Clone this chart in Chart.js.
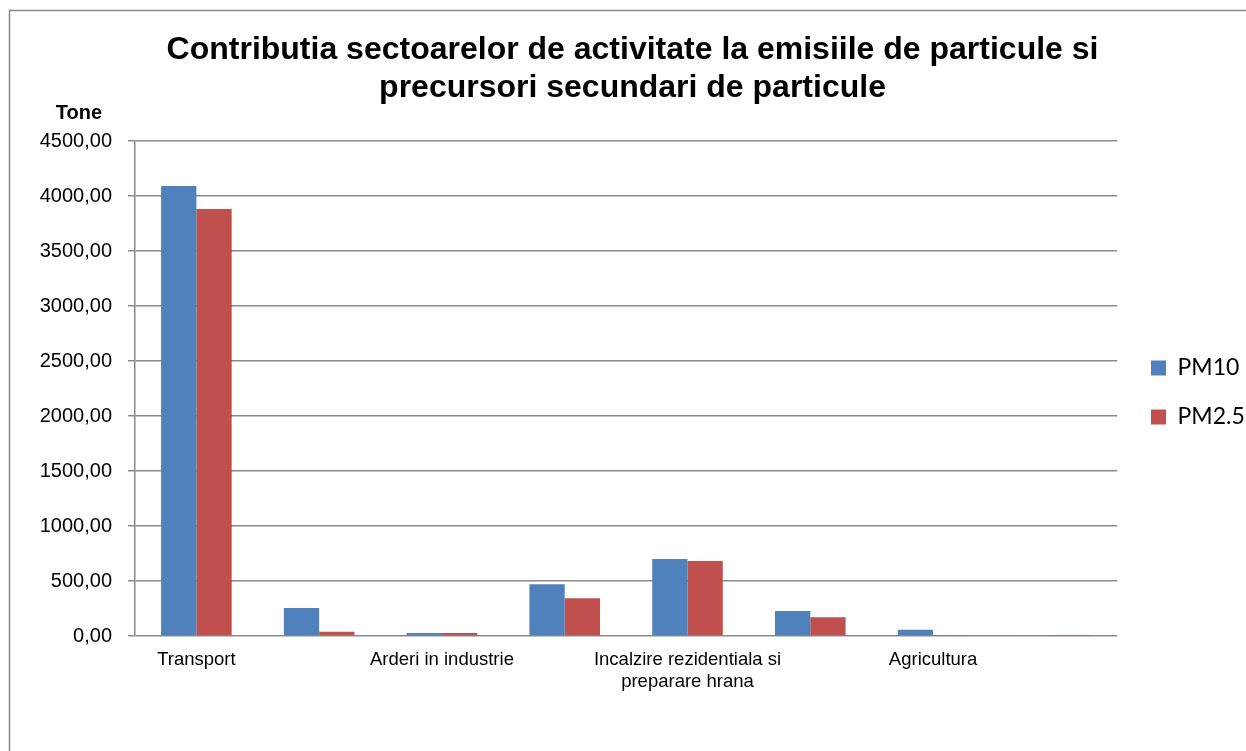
<!DOCTYPE html>
<html>
<head>
<meta charset="utf-8">
<script src="https://cdn.jsdelivr.net/npm/chart.js@4.4.1/dist/chart.umd.min.js"></script>
<style>
  html, body { margin: 0; padding: 0; background: #fff; }
  #wrap { width: 1246px; height: 751px; }
</style>
</head>
<body>
<div id="wrap"><canvas id="chart" width="1246" height="751"></canvas></div>
<script>
// sectors (only every other label is printed in the original)
const categories = [
  "Transport", "",
  "Arderi in industrie", "",
  ["Incalzire rezidentiala si", "preparare hrana"], "",
  "Agricultura", ""
];
const pm10  = [4091, 255, 27, 470, 700, 227, 57, 8];
const pm25  = [3882, 39, 27, 343, 682, 170, 10, 2];
const seriesNames = ["PM10", "PM2.5"];
const titleLines = ["Contributia sectoarelor de activitate la emisiile de particule si", "precursori secundari de particule"];
const yTitle = "Tone";

const ARIAL = "'Liberation Sans', Arial, sans-serif";
const GRID = "#8a8a8a";

// outer frame + "Tone" caption
const frame = {
  id: "frame",
  beforeDraw(chart) {
    const ctx = chart.ctx;
    ctx.save();
    ctx.strokeStyle = "#888";
    ctx.lineWidth = 1.5;
    ctx.strokeRect(9.5, 10.5, 1400, 900);
    ctx.restore();
  },
  afterDraw(chart) {
    const ctx = chart.ctx;
    ctx.save();
    ctx.font = "bold 20px " + ARIAL;
    ctx.fillStyle = "#000";
    ctx.textAlign = "center";
    ctx.textBaseline = "middle";
    ctx.fillText(yTitle, 79, 113);
    ctx.restore();
  }
};

// legend sits a bit further right than chart.js would put it
const legendSpot = {
  id: "legendSpot",
  afterLayout(chart) {
    const l = chart.legend;
    const dx = 1151 - 26 - l.left;
    l.left += dx; l.right += dx;
    l.top += 4; l.bottom += 4;
  }
};

new Chart(document.getElementById("chart"), {
  type: "bar",
  data: {
    labels: categories,
    datasets: [
      { label: seriesNames[0], data: pm10, backgroundColor: "#4F81BD" },
      { label: seriesNames[1], data: pm25, backgroundColor: "#C0504D" }
    ]
  },
  options: {
    responsive: false,
    animation: false,
    layout: { padding: { left: 18, top: 10, right: -1, bottom: 0 } },
    datasets: { bar: { categoryPercentage: 0.575, barPercentage: 1 } },
    plugins: {
      title: {
        display: true,
        text: titleLines,
        color: "#000",
        font: { family: ARIAL, size: 32, weight: "bold", lineHeight: 1.2 },
        padding: { top: 21, bottom: 33.2 }
      },
      legend: {
        position: "right",
        fullSize: false,
        labels: {
          boxWidth: 15, boxHeight: 15, padding: 26,
          color: "#000",
          font: { family: "Lato, 'Open Sans', sans-serif", size: 23 }
        }
      },
      tooltip: { enabled: false }
    },
    scales: {
      x: {
        grid: { display: false, drawTicks: false },
        border: { display: false },
        ticks: {
          autoSkip: false, maxRotation: 0, padding: 12.4,
          color: "#000",
          font: { family: ARIAL, size: 18.5 }
        },
        afterFit(s) { s.height = 115; }
      },
      y: {
        min: 0, max: 4500,
        grid: { color: GRID, lineWidth: 1.5, tickLength: 7, tickColor: GRID },
        border: { display: true, color: GRID, width: 1.5 },
        ticks: {
          stepSize: 500, padding: 16,
          color: "#000",
          font: { family: ARIAL, size: 20 },
          callback: v => v.toFixed(2).replace(".", ",")
        },
        afterFit(s) { s.width = 117; }
      }
    }
  },
  plugins: [frame, legendSpot]
});
</script>
</body>
</html>
